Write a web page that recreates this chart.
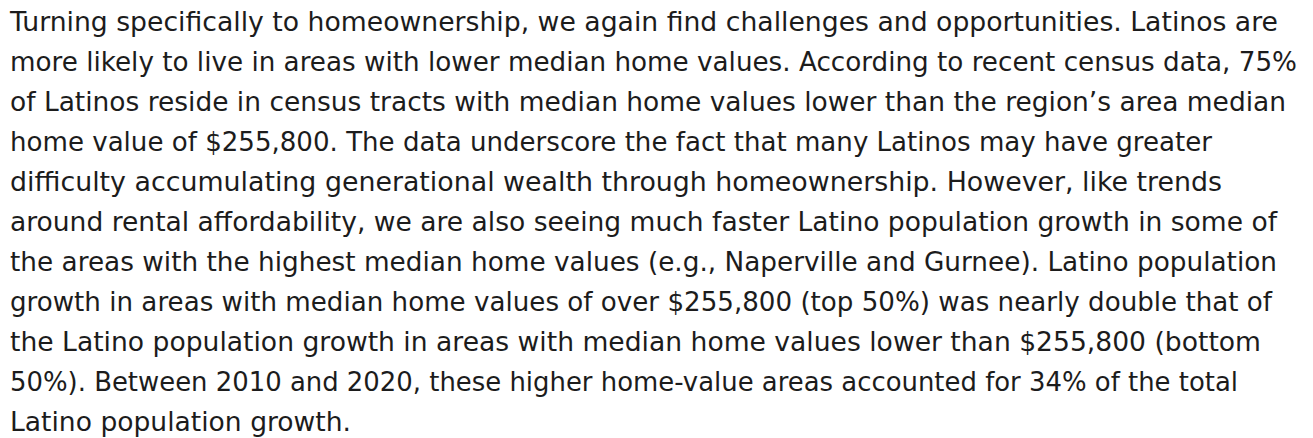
<!DOCTYPE html>
<html>
<head>
<meta charset="utf-8">
<script src="https://cdn.jsdelivr.net/npm/chart.js@4"></script>
<style>
  html, body { margin: 0; padding: 0; background: #ffffff; }
  body { width: 1313px; height: 438px; overflow: hidden; }
  #para {
    position: absolute; left: 10px; top: 3.3px;
    font-family: "DejaVu Sans", sans-serif;
    font-size: 26px;
    line-height: 39.94px;
    color: #1c1c1c;
  }
  .ln { white-space: pre; height: 39.94px; }
  .ln span { display: inline-block; transform-origin: 0 50%; }
</style>
</head>
<body>
<div id="para"></div>
<script>
const lines = [
  "Turning specifically to homeownership, we again find challenges and opportunities. Latinos are",
  "more likely to live in areas with lower median home values. According to recent census data, 75%",
  "of Latinos reside in census tracts with median home values lower than the region\u2019s area median",
  "home value of $255,800. The data underscore the fact that many Latinos may have greater",
  "difficulty accumulating generational wealth through homeownership. However, like trends",
  "around rental affordability, we are also seeing much faster Latino population growth in some of",
  "the areas with the highest median home values (e.g., Naperville and Gurnee). Latino population",
  "growth in areas with median home values of over $255,800 (top 50%) was nearly double that of",
  "the Latino population growth in areas with median home values lower than $255,800 (bottom",
  "50%). Between 2010 and 2020, these higher home-value areas accounted for 34% of the total",
  "Latino population growth."
];
const lineRightEdges = [1279, 1298, 1287, 1213, 1223, 1278, 1278, 1273, 1262, 1239, 352];
const leftEdge = 11;

const para = document.getElementById('para');
lines.forEach((t, i) => {
  const d = document.createElement('div');
  d.className = 'ln';
  const s = document.createElement('span');
  s.textContent = t;
  d.appendChild(s);
  para.appendChild(d);
});
const spans = para.querySelectorAll('.ln span');
spans.forEach((s, i) => {
  const w = s.getBoundingClientRect().width;
  const target = lineRightEdges[i] - leftEdge;
  s.style.transform = 'scaleX(' + (target / w) + ')';
});
</script>
</body>
</html>
